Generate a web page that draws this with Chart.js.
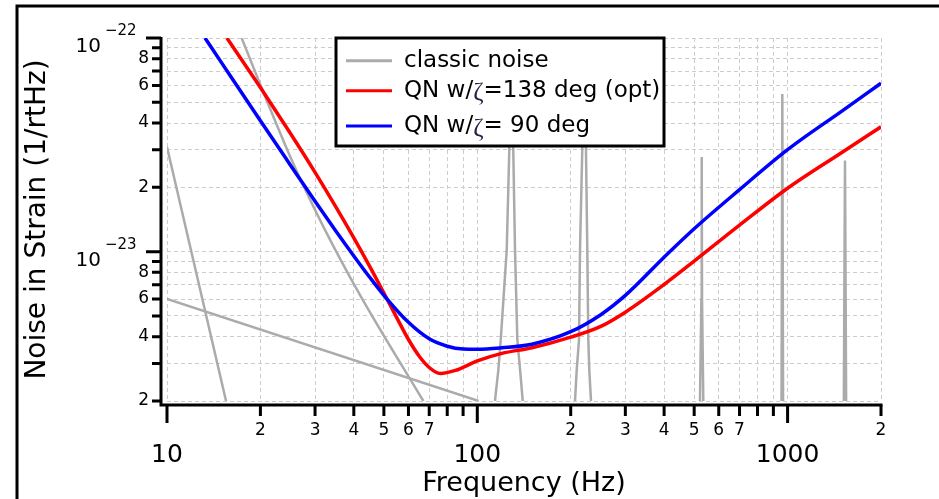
<!DOCTYPE html>
<html>
<head>
<meta charset="utf-8">
<script src="https://cdn.jsdelivr.net/npm/chart.js@4.4.1/dist/chart.umd.min.js"></script>
<style>
  html, body { margin: 0; padding: 0; background: #fff; }
  #wrap { width: 939px; height: 499px; }
</style>
</head>
<body>
<div id="wrap"><canvas id="noiseChart" width="939" height="499"></canvas></div>
<script>
// Quantum noise curves
const qn138Freq = [15.6, 20, 25, 30, 35, 40, 45, 50, 55, 60, 65, 70, 76, 85, 100, 120, 150, 200, 250, 300, 400, 500, 700, 1000, 1500, 2000];
const qn138Noise = [1.0e-22, 5.86e-23, 3.57e-23, 2.35e-23, 1.62e-23, 1.16e-23, 8.53e-24, 6.40e-24, 4.91e-24, 3.88e-24, 3.24e-24, 2.87e-24, 2.69e-24, 2.78e-24, 3.08e-24, 3.34e-24, 3.55e-24, 3.98e-24, 4.47e-24, 5.21e-24, 7.02e-24, 9.03e-24, 1.33e-23, 1.98e-23, 2.92e-23, 3.84e-23];
const qn90Freq = [13.26, 15, 20, 25, 30, 35, 40, 45, 50, 60, 70, 80, 90, 100, 120, 150, 200, 250, 300, 400, 500, 700, 1000, 1500, 2000];
const qn90Noise = [1.0e-22, 7.65e-23, 4.10e-23, 2.54e-23, 1.72e-23, 1.25e-23, 9.55e-24, 7.59e-24, 6.25e-24, 4.67e-24, 3.91e-24, 3.61e-24, 3.50e-24, 3.49e-24, 3.55e-24, 3.69e-24, 4.22e-24, 5.07e-24, 6.24e-24, 9.42e-24, 1.28e-23, 1.95e-23, 3.0e-23, 4.56e-23, 6.14e-23];

// Classic noise components
const seismicFreq = [10, 15.5];
const seismicNoise = [3.09e-23, 2.0e-24];
const thermalFreq = [10, 101];
const thermalNoise = [6.0e-24, 2.0e-24];
const suspFreq = [17.4, 19.9, 25.5, 31.9, 41.9, 67.0];
const suspNoise = [1.0e-22, 6.14e-23, 2.59e-23, 1.31e-23, 6.26e-24, 2.0e-24];
const peak128Freq = [114.0, 116.9, 119.0, 124.4, 126.8, 128.4, 130.6, 132.3, 134.6, 137.4, 140.1];
const peak128Noise = [2.0e-24, 2.79e-24, 3.86e-24, 1.02e-23, 2.99e-23, 8e-23, 2.99e-23, 1.02e-23, 3.86e-24, 2.79e-24, 2.0e-24];
const peak220Freq = [206.5, 209.1, 212.7, 214.3, 217.9, 220.7, 224.0, 226.2, 227.9, 229.6, 232.5];
const peak220Noise = [2.0e-24, 2.79e-24, 3.86e-24, 1.02e-23, 2.99e-23, 8e-23, 2.99e-23, 1.02e-23, 3.86e-24, 2.79e-24, 2.0e-24];
const peak528Freq = [522, 527.5, 528.7, 530, 535];
const peak528Noise = [2.0e-24, 6.0e-24, 2.77e-23, 6.0e-24, 2.0e-24];
const peak962Freq = [956, 961.6, 967];
const peak962Noise = [2.0e-24, 5.47e-23, 2.0e-24];
const peak1531Freq = [1518, 1531, 1544];
const peak1531Noise = [2.0e-24, 2.67e-23, 2.0e-24];

// Ticks
const xMajorTicks = [10, 100, 1000];
const xMajorLabels = ['10', '100', '1000'];
const xMinorTicks = [20, 30, 40, 50, 60, 70, 80, 90, 200, 300, 400, 500, 600, 700, 800, 900, 2000];
const xMinorLabels = ['2', '3', '4', '5', '6', '7', '', '', '2', '3', '4', '5', '6', '7', '', '', '2'];
const yMajorTicks = [1e-23, 1e-22];
const yMajorExponents = ['\u221223', '\u221222'];
const yMinorTicks = [2e-24, 3e-24, 4e-24, 5e-24, 6e-24, 7e-24, 8e-24, 9e-24, 2e-23, 3e-23, 4e-23, 5e-23, 6e-23, 7e-23, 8e-23, 9e-23];
const yMinorLabels = ['2', '', '4', '', '6', '', '8', '', '2', '', '4', '', '6', '', '8', ''];

const FONT = '"DejaVu Sans", "Noto Sans", sans-serif';
const GRAY = '#ababab';

function points(xs, ys) {
    return xs.map((v, i) => ({ x: v, y: ys[i] }));
}

function grayLine(xs, ys, label, smooth) {
    return {
        label: label,
        data: points(xs, ys),
        borderColor: GRAY,
        borderWidth: 2.5,
        cubicInterpolationMode: smooth ? 'monotone' : 'default',
        tension: 0,
        order: 3
    };
}

// Axes drawn a few px off the data area, like the original
const offsetAxes = {
    id: 'offsetAxes',
    afterDatasetsDraw(chart) {
        const { ctx, chartArea: a } = chart;
        // legend box
        const bx = a.left + 169, by = a.top, bw = 328, bh = 108;
        ctx.save();
        ctx.fillStyle = '#fff';
        ctx.fillRect(bx, by, bw, bh);
        ctx.lineWidth = 3;
        ctx.strokeStyle = '#000';
        ctx.strokeRect(bx, by, bw, bh);
        const rows = [22.7, 52.7, 88];
        const shown = chart.data.datasets.filter(d => d.inLegend);
        shown.sort((p, q) => p.legendIndex - q.legendIndex);
        shown.forEach((d, i) => {
            const ry = by + rows[i];
            ctx.strokeStyle = d.borderColor;
            ctx.lineWidth = 3;
            ctx.beginPath();
            ctx.moveTo(bx + 10, ry);
            ctx.lineTo(bx + 56, ry);
            ctx.stroke();
            const parts = d.label.split('\u03b6');
            let tx = bx + 68;
            ctx.textBaseline = 'middle';
            ctx.textAlign = 'left';
            parts.forEach((p, k) => {
                if (k > 0) {
                    ctx.font = '25px "Liberation Serif", serif';
                    ctx.fillStyle = '#222244';
                    ctx.fillText('\u03b6', tx, ry + 3);
                    tx += ctx.measureText('\u03b6').width;
                }
                ctx.font = '23px ' + FONT;
                ctx.fillStyle = '#000';
                ctx.fillText(p, tx, ry);
                tx += ctx.measureText(p).width;
            });
        });
        ctx.restore();
    },
    afterDraw(chart) {
        const { ctx, chartArea: a, scales: { x, y } } = chart;
        const ax = a.left - 6;
        const ay = a.bottom + 4;
        ctx.save();
        ctx.strokeStyle = '#000';
        ctx.fillStyle = '#000';
        ctx.lineWidth = 3;
        ctx.lineCap = 'butt';

        // figure frame
        ctx.beginPath();
        ctx.moveTo(17, 499);
        ctx.lineTo(17, 6);
        ctx.lineTo(939, 6);
        ctx.stroke();

        // axis lines
        ctx.beginPath();
        ctx.moveTo(ax, a.top - 1);
        ctx.lineTo(ax, ay + 1.5);
        ctx.moveTo(ax - 1.5, ay);
        ctx.lineTo(a.right + 1.5, ay);
        ctx.stroke();

        // x ticks
        ctx.textAlign = 'center';
        ctx.textBaseline = 'middle';
        ctx.beginPath();
        xMinorTicks.forEach(v => {
            const px = x.getPixelForValue(v);
            ctx.moveTo(px, ay);
            ctx.lineTo(px, ay + 11);
        });
        xMajorTicks.forEach(v => {
            const px = x.getPixelForValue(v);
            ctx.moveTo(px, ay);
            ctx.lineTo(px, ay + 18);
        });
        ctx.stroke();
        ctx.font = '17px ' + FONT;
        xMinorTicks.forEach((v, i) => {
            if (xMinorLabels[i]) ctx.fillText(xMinorLabels[i], x.getPixelForValue(v), ay + 26);
        });
        ctx.font = '25px ' + FONT;
        xMajorTicks.forEach((v, i) => {
            ctx.fillText(xMajorLabels[i], x.getPixelForValue(v), ay + 50);
        });

        // y ticks
        ctx.beginPath();
        yMinorTicks.forEach(v => {
            const py = y.getPixelForValue(v);
            ctx.moveTo(ax, py);
            ctx.lineTo(ax - 9, py);
        });
        yMajorTicks.forEach(v => {
            const py = y.getPixelForValue(v);
            ctx.moveTo(ax, py);
            ctx.lineTo(ax - 15, py);
        });
        ctx.stroke();
        ctx.textAlign = 'right';
        ctx.font = '17px ' + FONT;
        yMinorTicks.forEach((v, i) => {
            if (yMinorLabels[i]) ctx.fillText(yMinorLabels[i], ax - 12, y.getPixelForValue(v));
        });
        yMajorTicks.forEach((v, i) => {
            const py = y.getPixelForValue(v);
            ctx.font = '15px ' + FONT;
            ctx.textAlign = 'left';
            ctx.fillText(yMajorExponents[i], ax - 56, py - 7);
            ctx.font = '20px ' + FONT;
            ctx.textAlign = 'right';
            ctx.fillText('10', ax - 60, py + 9);
        });

        // axis titles
        ctx.textAlign = 'center';
        ctx.font = '27px ' + FONT;
        ctx.fillText('Frequency (Hz)', (a.left + a.right) / 2, 484);
        ctx.font = '28px ' + FONT;
        ctx.translate(38, (a.top + a.bottom) / 2);
        ctx.rotate(-Math.PI / 2);
        ctx.fillText('Noise in Strain (1/rtHz)', 0, 0);
        ctx.restore();
    }
};

function initializeChart() {
    const ctx = document.getElementById('noiseChart').getContext('2d');
    const xGrid = xMajorTicks.concat(xMinorTicks).sort((p, q) => p - q);
    const yGrid = yMajorTicks.concat(yMinorTicks).sort((p, q) => p - q);

    const classic = grayLine(seismicFreq, seismicNoise, 'classic noise', false);
    classic.inLegend = true;
    classic.legendIndex = 0;

    new Chart(ctx, {
        type: 'line',
        data: {
            datasets: [
                {
                    label: 'QN w/\u03b6= 90 deg',
                    data: points(qn90Freq, qn90Noise),
                    borderColor: '#0000ff',
                    borderWidth: 3.5,
                    cubicInterpolationMode: 'monotone',
                    order: 1,
                    inLegend: true,
                    legendIndex: 2
                },
                {
                    label: 'QN w/\u03b6=138 deg (opt)',
                    data: points(qn138Freq, qn138Noise),
                    borderColor: '#ff0000',
                    borderWidth: 3.5,
                    cubicInterpolationMode: 'monotone',
                    order: 2,
                    inLegend: true,
                    legendIndex: 1
                },
                classic,
                grayLine(thermalFreq, thermalNoise, 'classic noise', false),
                grayLine(suspFreq, suspNoise, 'classic noise', true),
                grayLine(peak128Freq, peak128Noise, 'classic noise', false),
                grayLine(peak220Freq, peak220Noise, 'classic noise', false),
                grayLine(peak528Freq, peak528Noise, 'classic noise', false),
                grayLine(peak962Freq, peak962Noise, 'classic noise', false),
                grayLine(peak1531Freq, peak1531Noise, 'classic noise', false)
            ]
        },
        options: {
            responsive: false,
            animation: false,
            devicePixelRatio: 1,
            layout: {
                padding: { left: 167, right: 58, top: 38, bottom: 98 }
            },
            elements: {
                point: { radius: 0 }
            },
            plugins: {
                legend: { display: false },
                tooltip: { enabled: false }
            },
            scales: {
                x: {
                    type: 'logarithmic',
                    min: 10,
                    max: 2000,
                    afterBuildTicks: scale => { scale.ticks = xGrid.map(v => ({ value: v })); },
                    ticks: { display: false },
                    grid: { color: '#cccccc', lineWidth: 1, drawTicks: false },
                    border: { display: false, dash: [4, 3] }
                },
                y: {
                    type: 'logarithmic',
                    min: 2e-24,
                    max: 1e-22,
                    afterBuildTicks: scale => { scale.ticks = yGrid.map(v => ({ value: v })); },
                    ticks: { display: false },
                    grid: { color: '#cccccc', lineWidth: 1, drawTicks: false },
                    border: { display: false, dash: [4, 3] }
                }
            }
        },
        plugins: [offsetAxes]
    });
}

document.addEventListener('DOMContentLoaded', initializeChart);
</script>
</body>
</html>
